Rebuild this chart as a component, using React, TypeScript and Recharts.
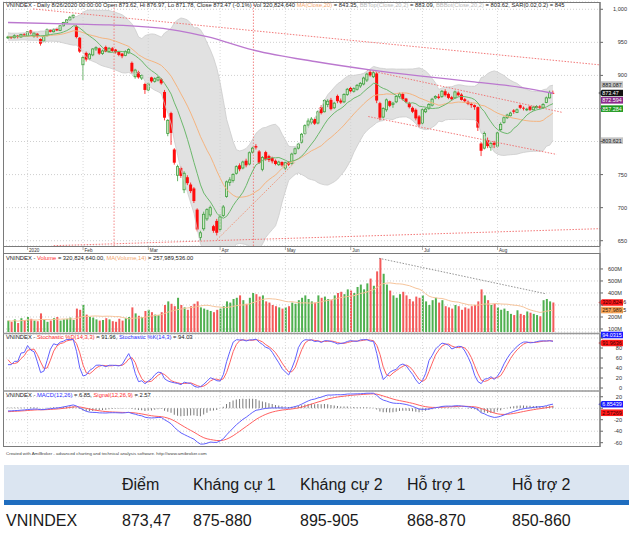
import React from 'react';
import { ComposedChart, Bar, Line, Area, XAxis, YAxis, CartesianGrid, ReferenceLine } from 'recharts';

const FONT = "'Liberation Sans', Arial, sans-serif";

// ---------------- data ----------------
const monthTickIdx = [6, 23, 43, 65, 85, 105, 127, 150];
const monthTickLabels = ['2020', 'Feb', 'Mar', 'Apr', 'May', 'Jun', 'Jul', 'Aug'];

// estimated closes before the first visible bar (needed for the indicators)
const warmupCloses = [995, 992, 990, 986, 980, 975, 970, 968, 966, 964, 962, 963, 960, 957, 955, 958, 961, 963, 962, 960, 957, 955, 953, 956, 959, 961, 963, 960, 957, 958];

// [open, high, low, close]  24 Dec 2019 .. 26 Aug 2020
const candles: number[][] = [
  [957,960,955,958],[958,959,955,957],[957,962,956,960],[960,961,956,958],[958,963,957,962],[962,964,959,961],
  [960,967,959,966],[968,969,962,964],[959,965,957,964],[963,964,957,959],[955,956,945,948],[952,961,950,959],[960,971,959,969],[969,970,965,966],[966,971,965,969],[970,972,967,968],[968,976,967,975],[975,981,974,980],[980,985,979,984],[984,990,983,988],[988,992,986,991],
  [974,976,956,958],[957,958,934,936],
  [916,930,893,927],[934,936,921,924],[925,934,923,932],[931,941,929,940],[940,944,937,942],[941,942,931,933],[933,939,931,937],[943,945,935,936],[936,943,935,941],[941,943,935,937],[939,940,933,935],[936,937,929,931],[933,934,926,929],[930,938,929,936],[934,941,933,939],[919,921,903,906],[898,910,895,908],[905,907,895,897],[896,902,893,900],[887,889,872,878],
  [878,889,876,887],[897,898,889,891],[891,897,889,895],[893,899,891,897],[894,896,886,888],[875,878,832,836],[812,834,808,832],[843,845,795,813],[788,790,765,768],[749,765,740,762],[760,762,745,748],[727,755,722,752],[746,749,734,737],[735,738,722,725],[729,731,707,710],[697,699,664,667],[655,665,650,662],[668,694,665,690],[683,699,680,697],[689,703,686,700],[672,674,662,665],[680,683,658,662],
  [667,690,664,686],[688,704,686,701],[717,741,715,739],[738,746,733,742],[741,752,738,750],[752,764,750,762],[764,767,755,758],[760,771,758,769],[771,774,761,764],[766,785,764,783],[784,792,782,790],[793,796,788,791],[785,787,766,768],[758,778,755,776],[784,786,771,773],[778,780,769,772],[775,777,767,770],[771,773,764,766],[765,771,763,769],[769,770,762,764],
  [760,770,757,768],[768,770,763,765],[767,783,765,781],[782,791,780,789],[790,798,788,796],[799,813,797,811],[812,826,810,824],[825,835,821,831],[829,837,826,834],[834,836,825,827],[828,847,826,845],[852,855,841,843],[845,864,844,862],[856,864,852,861],[863,866,847,849],[851,860,849,858],[869,871,858,861],[862,865,857,859],[860,873,858,871],[871,881,869,879],
  [881,883,873,876],[876,882,874,880],[879,887,877,885],[884,890,881,888],[887,898,885,896],[893,904,890,902],[905,907,898,900],[898,906,896,904],[903,905,858,862],[858,860,832,836],[837,852,835,850],[848,865,845,863],[861,862,852,854],[856,860,851,858],[860,870,858,868],[868,874,865,872],[872,874,862,864],[865,866,858,860],[858,860,850,852],[851,853,843,845],[848,850,832,835],[838,840,823,826],
  [828,850,826,848],[845,851,843,849],[850,858,848,856],[855,866,853,864],[866,870,864,868],[868,872,864,866],[868,878,866,876],[876,879,868,870],[872,874,864,866],[867,869,862,864],[866,877,865,875],[874,876,868,870],[871,873,862,863],[864,866,859,861],[860,862,855,857],[857,859,851,855],[855,856,848,852],[852,853,816,821],[797,799,778,786],[790,815,788,812],[802,806,790,793],[791,800,786,797],[798,801,790,795],
  [793,815,791,813],[818,829,816,826],[829,838,827,836],[836,842,834,840],[839,845,838,843],[847,849,842,845],[844,850,843,848],[855,856,849,851],[851,853,847,850],[848,851,846,849],[853,854,846,848],[848,854,847,852],[851,855,850,853],[853,855,849,851],[851,858,850,856],[859,868,858,866],[866,877,865,874.34],[873.62,876.97,871.78,873.47],
];

// volume in millions of shares
const volumesM = [
  170,160,180,150,190,175,
  200,185,170,165,230,180,160,170,190,200,170,180,185,195,175,
  270,260,300,
  220,200,195,180,170,175,190,180,165,160,185,170,190,200,280,230,210,200,250,
  260,240,220,215,240,300,330,310,290,360,300,280,260,290,310,330,280,270,260,250,240,260,
  270,290,330,320,350,360,380,340,310,360,400,390,370,380,330,320,300,290,280,270,
  280,290,320,310,340,360,380,350,330,320,380,360,370,350,340,380,400,410,390,430,
  420,400,450,470,430,480,520,460,580,690,560,470,420,380,360,390,410,380,350,330,370,360,
  380,330,300,340,360,320,340,290,280,270,300,290,260,280,270,290,300,330,430,380,340,300,310,
  280,260,270,250,226,216,256,226,216,246,236,226,216,206,340,350,330,320.82,
];

// MA(Close,200)
const ma200Points = [
  { i: 0, v: 980 }, { i: 21, v: 977.5 }, { i: 31, v: 976.3 }, { i: 49, v: 970 }, { i: 56, v: 964 },
  { i: 61, v: 958.5 }, { i: 75, v: 938.5 }, { i: 94, v: 921 }, { i: 111, v: 908.4 }, { i: 126, v: 899.3 },
  { i: 142, v: 890.7 }, { i: 157, v: 882 }, { i: 167, v: 873 },
];

// dotted trend lines [x(bar index), price]
const trendLines = [
  [[7.7, 1000.5], [181.4, 915.9]],
  [[14, 642.5], [181.4, 668.2]],
  [[64, 651.5], [88, 769]],
  [[109.9, 908.4], [170, 843.9]],
  [[110.4, 837.8], [168.1, 780.5]],
];
const redMarkers = [32.5, 75.2];
const volumeTrend = [[113.7, 689], [164.5, 395]];

const mainTicks = [650, 700, 750, 800, 850, 900, 950, 1000];
const volTicks = [100, 200, 300, 400, 500, 600];
const stochTicks = [0, 20, 40, 60, 80, 100];
const macdTicks = [-60, -40, -20, 0, 20];
// tick labels covered by the value tags in the reference
const hiddenMain = [800, 850];
const hiddenVol = [300];
const hiddenStoch = [100];
const hiddenMacd = [0];

const mainTags = [
  { v: 883.087, text: '883.087', bg: '#c4c4c4', fg: '#222', dy: -2, arrow: false },
  { v: 873.47, text: '873.47', bg: '#111111', fg: '#ffffff', dy: 0, arrow: true },
  { v: 872.594, text: '872.594', bg: '#8c2a8c', fg: '#ffffff', dy: 6.8, arrow: false },
  { v: 857.284, text: '857.284', bg: '#1f9a1f', fg: '#ffffff', dy: 5, arrow: false },
  { v: 803.621, text: '803.621', bg: '#c4c4c4', fg: '#222', dy: 1.5, arrow: false },
];
const volTags = [
  { v: 320.82, text: '320,824,6', bg: '#ff1a1a', fg: '#3a0000', dy: 0, arrow: true },
  { v: 257.99, text: '257,989,5', bg: '#f5a55a', fg: '#3a2000', dy: 0, arrow: false },
];
const stochTags = [
  { v: 94.03, text: '94.0315', bg: '#1a1aff', fg: '#ffffff', dy: -6, arrow: false },
  { v: 91.96, text: '91.9636', bg: '#ff1a1a', fg: '#3a0000', dy: 1, arrow: true },
];
const macdTags = [
  { v: 6.854, text: '6.85439', bg: '#1a1aff', fg: '#ffffff', dy: 0, arrow: true },
  { v: 2.573, text: '2.57269', bg: '#ff1a1a', fg: '#3a0000', dy: 6, arrow: false },
];

const tableHeader = ['Điểm', 'Kháng cự 1', 'Kháng cự 2', 'Hỗ trợ 1', 'Hỗ trợ 2'];
const tableRowName = 'VNINDEX';
const tableRow = ['873,47', '875-880', '895-905', '868-870', '850-860'];

// ---------------- layout ----------------
const X_DOMAIN: [number, number] = [-1.53, 181.4];
const COL_X = [122, 193, 300, 407, 512];

// ---------------- indicators ----------------
function buildRows() {
  const W = warmupCloses.length;
  const C = [...warmupCloses, ...candles.map((k) => k[3])];
  const H = [...warmupCloses, ...candles.map((k) => k[1])];
  const L = [...warmupCloses, ...candles.map((k) => k[2])];
  const n = C.length;
  const ema = (src: number[], p: number) => {
    const a = 2 / (p + 1);
    const out: number[] = [];
    src.forEach((v, j) => out.push(j === 0 ? v : out[j - 1] + a * (v - out[j - 1])));
    return out;
  };
  const e12 = ema(C, 12);
  const e26 = ema(C, 26);
  const macd = C.map((_, j) => e12[j] - e26[j]);
  const sig = ema(macd, 9);
  const num: number[] = [];
  const den: number[] = [];
  for (let j = 0; j < n; j++) {
    let hh = -Infinity, ll = Infinity;
    for (let q = Math.max(0, j - 13); q <= j; q++) { hh = Math.max(hh, H[q]); ll = Math.min(ll, L[q]); }
    num.push(C[j] - ll);
    den.push(hh - ll);
  }
  const K: number[] = [];
  for (let j = 0; j < n; j++) {
    let a = 0, b = 0;
    for (let q = Math.max(0, j - 2); q <= j; q++) { a += num[q]; b += den[q]; }
    K.push(b > 0 ? (100 * a) / b : 50);
  }
  const D = K.map((_, j) => {
    let s = 0, c = 0;
    for (let q = Math.max(0, j - 2); q <= j; q++) { s += K[q]; c++; }
    return s / c;
  });
  const win = (arr: number[], j: number, p: number) => arr.slice(Math.max(0, j - p + 1), j + 1);
  const mean = (a: number[]) => a.reduce((s, v) => s + v, 0) / a.length;
  return candles.map((k, i) => {
    const j = W + i;
    const w20 = win(C, j, 20);
    const m20 = mean(w20);
    const sd = Math.sqrt(mean(w20.map((v) => (v - m20) * (v - m20))));
    return {
      i, o: k[0], h: k[1], l: k[2], c: k[3],
      vol: volumesM[i], volMa: mean(win(volumesM, i, 14)),
      ma10: mean(win(C, j, 10)), ma20: m20, bbTop: m20 + 2 * sd, bbBot: m20 - 2 * sd,
      k: K[j], d: D[j], macd: macd[j], signal: sig[j], hist: macd[j] - sig[j],
    };
  });
}

// ---------------- shapes ----------------
const CandleShape = (props: any) => {
  const { x, y, width, height, payload } = props;
  if (!payload || height == null || isNaN(y)) return null;
  const { o, h, l, c } = payload;
  const top = Math.min(y, y + height);
  const hgt = Math.abs(height);
  const k = h - l > 0 ? hgt / (h - l) : 0;
  const yO = top + (h - o) * k;
  const yC = top + (h - c) * k;
  const up = c >= o;
  const cx = x + width / 2;
  const bTop = Math.min(yO, yC);
  const bH = Math.max(Math.abs(yO - yC), 0.8);
  const color = up ? '#3f9f3f' : '#ff0c0c';
  return (
    <g>
      <line x1={cx} x2={cx} y1={top} y2={top + hgt} stroke={color} strokeWidth={0.8} />
      {up ? (
        <rect x={x + 0.4} y={bTop} width={Math.max(width - 0.8, 0.5)} height={bH} fill="#cfeac6" stroke={color} strokeWidth={0.8} />
      ) : (
        <rect x={x} y={bTop} width={width} height={bH} fill={color} />
      )}
    </g>
  );
};

const VolShape = (props: any) => {
  const { x, y, width, height, payload } = props;
  if (!payload || height == null) return null;
  const up = payload.c >= payload.o;
  return <rect x={x} y={y} width={width} height={Math.max(height, 0)} fill={up ? '#4fb04f' : '#f45a5a'} />;
};

const TagLabel = (props: any) => {
  const { viewBox, tag } = props;
  if (!viewBox) return null;
  const y = viewBox.y + tag.dy;
  const x0 = 601;
  const x1 = 623;
  const hh = 3.3;
  const pts = tag.arrow
    ? `${x0 - 2.5},${y} ${x0 + 1},${y - hh} ${x1},${y - hh} ${x1},${y + hh} ${x0 + 1},${y + hh}`
    : `${x0},${y - hh} ${x1},${y - hh} ${x1},${y + hh} ${x0},${y + hh}`;
  return (
    <g>
      <polygon points={pts} fill={tag.bg} />
      <text x={x0 + 1.2} y={y + 2} fontSize={5.4} fill={tag.fg} fontFamily={FONT}>{tag.text}</text>
    </g>
  );
};

const makeYTick = (anchorX: number, fmt: (v: number) => string, hidden: number[]) => (props: any) => {
  const v = props.payload.value;
  if (hidden.indexOf(v) >= 0) return <g />;
  return (
    <text x={anchorX} y={props.y + 2} textAnchor="end" fontSize={5.6} fill="#333" fontFamily={FONT}>
      {fmt(v)}
    </text>
  );
};

const MonthTick = (props: any) => {
  const { x, payload } = props;
  const idx = monthTickIdx.indexOf(payload.value);
  return (
    <g>
      <line x1={x} x2={x} y1={246} y2={250} stroke="#777" strokeWidth={0.6} />
      <text x={x + 1.5} y={251.5} fontSize={4.6} fill="#333" fontFamily={FONT}>{monthTickLabels[idx]}</text>
    </g>
  );
};

const gridStroke = '#cfcfcf';

const monthGrid = () =>
  monthTickIdx.map((t) => (
    <ReferenceLine key={'mg' + t} x={t} stroke={gridStroke} strokeDasharray="1 2" strokeWidth={0.8} />
  ));

const tagLines = (tags: any[], prefix: string) =>
  tags.map((t, n) => (
    <ReferenceLine key={prefix + n} y={t.v} stroke="none" ifOverflow="visible" label={<TagLabel tag={t} />} />
  ));

const axisStroke = '#666';

export default function App() {
  const rows = React.useMemo(buildRows, []);
  return (
    <div style={{ position: 'absolute', left: 0, top: 0, width: 640, height: 539, background: '#fff', overflow: 'hidden', fontFamily: FONT }}>
      {/* main price panel */}
      <div style={{ position: 'absolute', left: 0, top: 0 }}>
        <ComposedChart width={640} height={254} data={rows} margin={{ top: 2, right: 0, bottom: 0, left: 3 }}>
          <CartesianGrid vertical={false} stroke={gridStroke} strokeDasharray="1 2" />
          <XAxis type="number" dataKey="i" domain={X_DOMAIN} allowDataOverflow ticks={monthTickIdx} interval={0}
            height={8} tickLine={false} axisLine={false} tickSize={0} tick={<MonthTick />} />
          <YAxis orientation="right" width={40} domain={[642, 1011]} allowDataOverflow
            ticks={mainTicks} interval={0} tickSize={3}
            axisLine={{ stroke: axisStroke }} tickLine={{ stroke: axisStroke }}
            tick={makeYTick(627, (v) => v.toLocaleString('en-US'), hiddenMain)} />
          <Area dataKey={(d: any) => [d.bbBot, d.bbTop]} stroke="none" fill="#e1e1e1" fillOpacity={1} isAnimationActive={false} />
          <Line dataKey="bbTop" stroke="#cbcbcb" strokeWidth={0.8} dot={false} isAnimationActive={false} />
          <Line dataKey="bbBot" stroke="#cbcbcb" strokeWidth={0.8} dot={false} isAnimationActive={false} />
          {monthGrid()}
          {redMarkers.map((m) => (
            <ReferenceLine key={'rm' + m} x={m} stroke="#f06a6a" strokeDasharray="1.5 1.5" strokeWidth={0.8} />
          ))}
          {trendLines.map((s, n) => (
            <ReferenceLine key={'tl' + n} segment={[{ x: s[0][0], y: s[0][1] }, { x: s[1][0], y: s[1][1] }]}
              stroke={n === 2 ? '#f08a6a' : '#f06a6a'} strokeDasharray="1.5 1.5" strokeWidth={0.9} ifOverflow="hidden" />
          ))}
          <Line dataKey="ma20" stroke="#f5b47f" strokeWidth={1} dot={false} isAnimationActive={false} />
          <Line dataKey="ma10" stroke="#6cb86c" strokeWidth={1} dot={false} isAnimationActive={false} />
          <Line data={ma200Points} dataKey="v" type="monotone" stroke="#bb78cf" strokeWidth={1.3} dot={false} isAnimationActive={false} />
          <Bar dataKey={(d: any) => [d.l, d.h]} barSize={3} shape={<CandleShape />} isAnimationActive={false} />
          {tagLines(mainTags, 'mt')}
        </ComposedChart>
      </div>

      {/* volume panel: plot area y 253..332 */}
      <div style={{ position: 'absolute', left: 0, top: 253 }}>
        <ComposedChart width={640} height={84} data={rows} margin={{ top: 0, right: 0, bottom: 5, left: 3 }}>
          <CartesianGrid vertical={false} stroke={gridStroke} strokeDasharray="1 2" />
          <XAxis type="number" dataKey="i" domain={X_DOMAIN} allowDataOverflow hide />
          <YAxis orientation="right" width={40} domain={[75, 733]} allowDataOverflow
            ticks={volTicks} interval={0} tickSize={3}
            axisLine={{ stroke: axisStroke }} tickLine={{ stroke: axisStroke }}
            tick={makeYTick(622, (v) => `${v}M`, hiddenVol)} />
          {monthGrid()}
          <Bar dataKey="vol" barSize={2} shape={<VolShape />} isAnimationActive={false} />
          <Line dataKey="volMa" stroke="#f7c49a" strokeWidth={1} dot={false} isAnimationActive={false} />
          <ReferenceLine segment={[{ x: volumeTrend[0][0], y: volumeTrend[0][1] }, { x: volumeTrend[1][0], y: volumeTrend[1][1] }]}
            stroke="#888" strokeDasharray="1.5 1.5" strokeWidth={0.9} ifOverflow="hidden" />
          {tagLines(volTags, 'vt')}
        </ComposedChart>
      </div>

      {/* stochastic panel: plot area y 334..391 */}
      <div style={{ position: 'absolute', left: 0, top: 328 }}>
        <ComposedChart width={640} height={63} data={rows} margin={{ top: 6, right: 0, bottom: 0, left: 3 }}>
          <CartesianGrid vertical={false} stroke={gridStroke} strokeDasharray="1 2" />
          <XAxis type="number" dataKey="i" domain={X_DOMAIN} allowDataOverflow hide />
          <YAxis orientation="right" width={40} domain={[-6, 108]} allowDataOverflow
            ticks={stochTicks} interval={0} tickSize={3}
            axisLine={{ stroke: axisStroke }} tickLine={{ stroke: axisStroke }}
            tick={makeYTick(622, (v) => `${v}`, hiddenStoch)} />
          {monthGrid()}
          <Line dataKey="d" stroke="#ff6161" strokeWidth={1} dot={false} isAnimationActive={false} />
          <Line dataKey="k" stroke="#6161ff" strokeWidth={1} dot={false} isAnimationActive={false} />
          {tagLines(stochTags, 'st')}
        </ComposedChart>
      </div>

      {/* MACD panel: plot area y 391..447 */}
      <div style={{ position: 'absolute', left: 0, top: 391 }}>
        <ComposedChart width={640} height={56} data={rows} margin={{ top: 0, right: 0, bottom: 0, left: 3 }}>
          <CartesianGrid vertical={false} stroke={gridStroke} strokeDasharray="1 2" />
          <XAxis type="number" dataKey="i" domain={X_DOMAIN} allowDataOverflow hide />
          <YAxis orientation="right" width={40} domain={[-67.5, 30]} allowDataOverflow
            ticks={macdTicks} interval={0} tickSize={3}
            axisLine={{ stroke: axisStroke }} tickLine={{ stroke: axisStroke }}
            tick={makeYTick(622, (v) => `${v}`, hiddenMacd)} />
          {monthGrid()}
          <Bar dataKey="hist" barSize={1} fill="#7a7a7a" isAnimationActive={false} />
          <Line dataKey="signal" stroke="#ff6161" strokeWidth={1} dot={false} isAnimationActive={false} />
          <Line dataKey="macd" stroke="#6161ff" strokeWidth={1} dot={false} isAnimationActive={false} />
          {tagLines(macdTags, 'mc')}
        </ComposedChart>
      </div>

      {/* frames and titles */}
      <svg width={640} height={539} style={{ position: 'absolute', left: 0, top: 0, pointerEvents: 'none' }}>
        <rect x={3.5} y={2.5} width={596.5} height={444} fill="none" stroke="#7a7a7a" strokeWidth={1} />
        <line x1={3.5} x2={600} y1={246.5} y2={246.5} stroke="#7a7a7a" strokeWidth={1} />
        <line x1={3.5} x2={600} y1={253.5} y2={253.5} stroke="#7a7a7a" strokeWidth={1} />
        <line x1={3.5} x2={600} y1={333.5} y2={333.5} stroke="#999" strokeWidth={1.6} />
        <line x1={3.5} x2={600} y1={391} y2={391} stroke="#999" strokeWidth={1.6} />
        <text x={6} y={7.2} fontSize={5.8} fill="#222" fontFamily={FONT}>
          <tspan>VNINDEX - Daily 8/26/2020 00:00:00 Open 873.62, Hi 876.97, Lo 871.78, Close 873.47 (-0.1%) Vol 320,824,640 </tspan>
          <tspan fill="#f2a56a">MA(Close,20)</tspan>
          <tspan> = 843.35, </tspan>
          <tspan fill="#b8b8b8">BBTop(Close,20,2)</tspan>
          <tspan> = 883.09, </tspan>
          <tspan fill="#b8b8b8">BBBot(Close,20,2)</tspan>
          <tspan> = 803.62, SAR(0.02,0.2) = 845</tspan>
        </text>
        <text x={6} y={260.3} fontSize={5.8} fill="#222" fontFamily={FONT}>
          <tspan>VNINDEX - </tspan>
          <tspan fill="#ff3030">Volume</tspan>
          <tspan> = 320,824,640.00, </tspan>
          <tspan fill="#f2a56a">MA(Volume,14)</tspan>
          <tspan> = 257,989,536.00</tspan>
        </text>
        <text x={6} y={339.3} fontSize={5.8} fill="#222" fontFamily={FONT}>
          <tspan>VNINDEX - </tspan>
          <tspan fill="#ff3030">Stochastic %D(14,3,3)</tspan>
          <tspan> = 91.96, </tspan>
          <tspan fill="#3030ff">Stochastic %K(14,3)</tspan>
          <tspan> = 94.03</tspan>
        </text>
        <text x={6} y={397} fontSize={5.8} fill="#222" fontFamily={FONT}>
          <tspan>VNINDEX - </tspan>
          <tspan fill="#3030ff">MACD(12,26)</tspan>
          <tspan> = 6.85, </tspan>
          <tspan fill="#ff3030">Signal(12,26,9)</tspan>
          <tspan> = 2.57</tspan>
        </text>
        <text x={6} y={454.5} fontSize={4.4} fill="#444" fontFamily={FONT}>
          Created with AmiBroker - advanced charting and technical analysis software. http://www.amibroker.com
        </text>
      </svg>

      {/* table */}
      <div style={{ position: 'absolute', left: 4, top: 465, width: 625, height: 35, background: '#dbe5f1' }} />
      <div style={{ position: 'absolute', left: 4, top: 500, width: 625, height: 5, background: '#1f6dbf' }} />
      {tableHeader.map((h, n) => (
        <div key={'th' + n} style={{ position: 'absolute', left: COL_X[n], top: 476, fontSize: 16, lineHeight: '18px', color: '#1a1a1a', whiteSpace: 'nowrap' }}>{h}</div>
      ))}
      <div style={{ position: 'absolute', left: 6, top: 512, fontSize: 16, lineHeight: '18px', color: '#1a1a1a' }}>{tableRowName}</div>
      {tableRow.map((v, n) => (
        <div key={'td' + n} style={{ position: 'absolute', left: COL_X[n], top: 512, fontSize: 16, lineHeight: '18px', color: '#1a1a1a', whiteSpace: 'nowrap' }}>{v}</div>
      ))}
    </div>
  );
}
